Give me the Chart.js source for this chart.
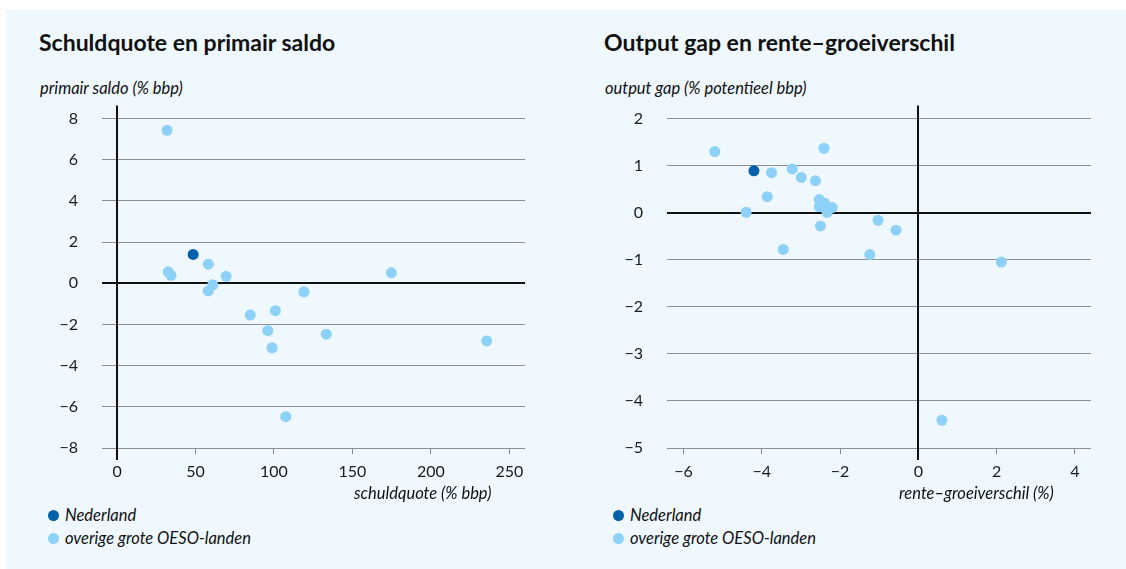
<!DOCTYPE html>
<html lang="nl">
<head>
<meta charset="utf-8">
<title>Schuldquote en primair saldo / Output gap en rente-groeiverschil</title>
<script src="https://cdn.jsdelivr.net/npm/chart.js@4.4.1/dist/chart.umd.min.js"></script>
<style>
    html, body { margin: 0; padding: 0; background: #ffffff; }
    body { width: 1126px; height: 569px; position: relative; overflow: hidden; font-family: Lato, "Noto Sans", sans-serif; color: #111; }
    #panel { position: absolute; left: 6px; top: 10px; right: 0; bottom: 0; background: #eef8fe; }
    .abs { position: absolute; white-space: nowrap; }
    .title { font-weight: bold; font-size: 23px; line-height: 26px; }
    .ytitle, .xtitle, .legend { font-style: italic; font-size: 16.5px; line-height: 20px; }
    .dot { display: inline-block; width: 11px; height: 11px; border-radius: 50%; vertical-align: middle; margin-right: 6px; position: relative; top: -1px; }
    canvas { position: absolute; }
</style>
</head>
<body>
<div id="panel"></div>

<div class="abs title" style="left:39px; top:29px;">Schuldquote en primair saldo</div>
<div class="abs ytitle" style="left:40px; top:78px;">primair saldo (% bbp)</div>
<canvas id="debt-chart" width="500" height="403" style="left:40px; top:85px;"></canvas>
<div class="abs xtitle" style="left:354px; top:483px;">schuldquote (% bbp)</div>
<div class="abs legend" style="left:48px; top:505px;"><span class="dot" style="background:#0060a9"></span>Nederland</div>
<div class="abs legend" style="left:48px; top:528px;"><span class="dot" style="background:#8dd1f9"></span>overige grote OESO-landen</div>

<div class="abs title" style="left:604px; top:29px;">Output gap en rente&#8211;groeiverschil</div>
<div class="abs ytitle" style="left:605px; top:78px;">output gap (% potentieel bbp)</div>
<canvas id="gap-chart" width="506" height="403" style="left:600px; top:85px;"></canvas>
<div class="abs xtitle" style="left:899px; top:483px;">rente&#8211;groeiverschil (%)</div>
<div class="abs legend" style="left:613px; top:505px;"><span class="dot" style="background:#0060a9"></span>Nederland</div>
<div class="abs legend" style="left:613px; top:528px;"><span class="dot" style="background:#8dd1f9"></span>overige grote OESO-landen</div>

<script>
// Left chart: debt ratio vs primary balance
const nlDebt = [48.5];
const nlBalance = [1.4];
const oecdDebt = [31.9, 58.1, 32.6, 34.4, 69.5, 174.8, 61.0, 58.1, 119.1, 84.9, 100.9, 96.1, 98.8, 133.4, 235.6, 107.5];
const oecdBalance = [7.43, 0.93, 0.56, 0.39, 0.34, 0.51, -0.07, -0.37, -0.41, -1.54, -1.33, -2.30, -3.13, -2.47, -2.80, -6.48];
const debtTicks = [0, 50, 100, 150, 200, 250];
const balanceTicks = [-8, -6, -4, -2, 0, 2, 4, 6, 8];

// Right chart: interest-growth differential vs output gap
const nlDiff = [-4.2];
const nlGap = [0.89];
const oecdDiff = [-5.20, -3.75, -3.22, -2.99, -2.63, -2.41, -3.86, -4.40, -2.53, -2.39, -2.53, -2.20, -2.33, -2.50, -1.03, -0.57, -3.45, -1.24, 2.12, 0.60];
const oecdGap = [1.30, 0.85, 0.93, 0.75, 0.68, 1.37, 0.34, 0.01, 0.28, 0.20, 0.13, 0.11, 0.01, -0.28, -0.16, -0.37, -0.78, -0.89, -1.05, -4.41];
const diffTicks = [-6, -4, -2, 0, 2, 4];
const gapTicks = [-5, -4, -3, -2, -1, 0, 1, 2];

const seriesLabels = ['Nederland', 'overige grote OESO-landen'];
const nlColor = '#0060a9';
const oecdColor = '#8dd1f9';

function toPoints(xs, ys) {
    return xs.map((x, i) => ({ x: x, y: ys[i] }));
}

function minusSign(value) {
    return value < 0 ? '\u2212' + Math.abs(value) : String(value);
}

// vertical zero axis, running a little past the plot area like the original
const zeroAxisPlugin = {
    id: 'zeroAxis',
    beforeDatasetsDraw(chart) {
        const ctx = chart.ctx;
        const area = chart.chartArea;
        const x = Math.round(chart.scales.x.getPixelForValue(0));
        ctx.save();
        ctx.strokeStyle = '#111111';
        ctx.lineWidth = 2;
        ctx.beginPath();
        ctx.moveTo(x, area.top - 13);
        ctx.lineTo(x, area.bottom + 12);
        ctx.stroke();
        ctx.restore();
    }
};

function makeScatter(canvasId, cfg) {
    const tickFont = { family: 'Lato, "Noto Sans", sans-serif', size: 16 };
    return new Chart(document.getElementById(canvasId), {
        type: 'scatter',
        data: {
            datasets: [{
                label: seriesLabels[0],
                data: toPoints(cfg.nlX, cfg.nlY),
                backgroundColor: nlColor,
                pointRadius: 5.5,
                borderWidth: 0
            }, {
                label: seriesLabels[1],
                data: toPoints(cfg.otherX, cfg.otherY),
                backgroundColor: oecdColor,
                pointRadius: 5.5,
                borderWidth: 0
            }]
        },
        options: {
            responsive: false,
            animation: false,
            layout: { padding: { top: 3, right: 15, bottom: 0, left: 0 } },
            plugins: {
                legend: { display: false },
                tooltip: { enabled: false }
            },
            scales: {
                x: {
                    type: 'linear',
                    min: cfg.xMin,
                    max: cfg.xMax,
                    afterBuildTicks: scale => { scale.ticks = cfg.xTicks.map(v => ({ value: v })); },
                    afterFit: scale => { scale.height = 40; },
                    border: { display: false },
                    grid: {
                        drawOnChartArea: false,
                        drawTicks: true,
                        tickLength: 6,
                        color: '#8a8a8a'
                    },
                    ticks: {
                        padding: 8,
                        color: '#1a1a1a',
                        font: tickFont,
                        maxRotation: 0,
                        callback: minusSign
                    }
                },
                y: {
                    min: cfg.yMin,
                    max: cfg.yMax,
                    afterBuildTicks: scale => { scale.ticks = cfg.yTicks.map(v => ({ value: v })); },
                    afterFit: scale => { scale.width = cfg.yWidth; },
                    border: { display: false },
                    grid: {
                        drawTicks: false,
                        color: ctx => ctx.tick && ctx.tick.value === 0 ? '#111111' : '#8f8f8f',
                        lineWidth: ctx => ctx.tick && ctx.tick.value === 0 ? 2 : 1
                    },
                    ticks: {
                        padding: 24,
                        color: '#1a1a1a',
                        font: tickFont,
                        callback: minusSign
                    }
                }
            }
        },
        plugins: [zeroAxisPlugin]
    });
}

function initializeCharts() {
    makeScatter('debt-chart', {
        nlX: nlDebt, nlY: nlBalance,
        otherX: oecdDebt, otherY: oecdBalance,
        xMin: -9.6, xMax: 260, xTicks: debtTicks,
        yMin: -8, yMax: 8, yTicks: balanceTicks,
        yWidth: 62
    });

    makeScatter('gap-chart', {
        nlX: nlDiff, nlY: nlGap,
        otherX: oecdDiff, otherY: oecdGap,
        xMin: -6.42, xMax: 4.41, xTicks: diffTicks,
        yMin: -5, yMax: 2, yTicks: gapTicks,
        yWidth: 67
    });
}

initializeCharts();
</script>
</body>
</html>
